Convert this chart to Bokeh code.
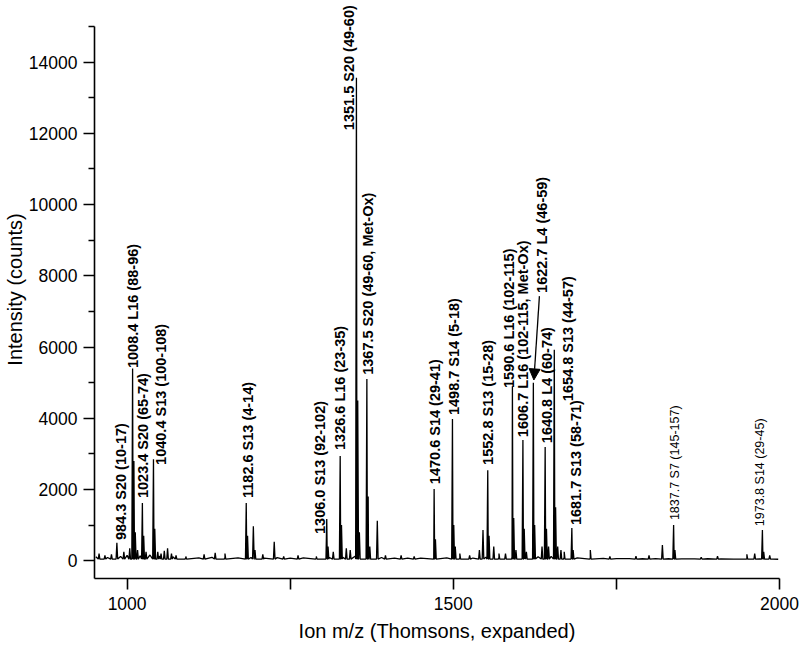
import math
from bokeh.plotting import figure
from bokeh.models import (FixedTicker, Arrow, NormalHead, ColumnDataSource, Range1d,
                          LabelSet)
from bokeh.core.properties import value
from bokeh.embed import file_html
from bokeh.resources import INLINE

# ---- data ----
# labelled peaks (m/z, intensity in counts)
peak_mz = [984.3, 1008.4, 1023.4, 1040.4, 1182.6, 1306.0, 1326.6, 1351.5, 1367.5,
           1470.6, 1498.7, 1552.8, 1590.6, 1606.7, 1622.7, 1640.8, 1654.8, 1681.7,
           1837.7, 1973.8]
peak_int = [500, 5400, 1620, 2850, 1620, 1170, 2940, 13560, 5100,
            2010, 3980, 2540, 4900, 3390, 5000, 3190, 5920, 920,
            1000, 860]

# bold labels
label_text = ["984.3 S20 (10-17)", "1008.4 L16 (88-96)", "1023.4 S20 (65-74)",
              "1040.4 S13 (100-108)", "1182.6 S13 (4-14)", "1306.0 S13 (92-102)",
              "1326.6 L16 (23-35)", "1351.5 S20 (49-60)", "1367.5 S20 (49-60, Met-Ox)",
              "1470.6 S14 (29-41)", "1498.7 S14 (5-18)", "1552.8 S13 (15-28)",
              "1590.6 L16 (102-115)", "1606.7 L16 (102-115, Met-Ox)", "1622.7 L4 (46-59)",
              "1640.8 L4 (60-74)", "1654.8 S13 (44-57)", "1681.7 S13 (58-71)"]
label_mz = [989.9, 1008.9, 1024.2, 1051.2, 1185.2, 1296.0,
            1325.9, 1339.7, 1369.1, 1472.3, 1500.7, 1553.6,
            1585.0, 1607.2, 1636.4, 1644.0, 1676.2, 1688.4]
label_int = [580, 5410, 1760, 2690, 1760, 750,
             3110, 12090, 5220, 2150, 4090, 2690,
             4850, 3470, 7520, 3300, 4480, 1000]

# small labels
small_text = ["1837.7 S7 (145-157)", "1973.8 S14 (29-45)"]
small_mz = [1840.4, 1970.7]
small_int = [1140, 970]

# arrow for 1622.7 (start / end in data units)
arrow_from = (1632.0, 7430)
arrow_to = (1623.5, 5075)

# unlabelled / isotope / noise peaks
minor_mz = [957, 966, 976, 995, 1004, 1010.4, 1012.5, 1016, 1025.4, 1029, 1042.4, 1047,
            1052, 1057, 1062, 1068, 1075, 1090, 1118, 1135, 1150, 1184.6, 1193.5, 1196,
            1208, 1225.5, 1240, 1262, 1290, 1308, 1316, 1328.6, 1336, 1342, 1353.5, 1356,
            1369.5, 1372, 1383.5, 1396, 1420, 1440, 1472.6, 1500.7, 1503, 1510, 1525, 1540,
            1545.5, 1554.8, 1562, 1570, 1580, 1592.6, 1596, 1608.7, 1612, 1624.7, 1636,
            1642.8, 1646, 1656.8, 1660, 1665, 1670, 1683.7, 1710, 1740, 1780, 1800, 1820.5,
            1839.7, 1880, 1905, 1950, 1962, 1975.8, 1985]
minor_int = [200, 150, 180, 250, 350, 2800, 800, 300, 700, 250, 900, 250,
             200, 280, 350, 200, 150, 120, 180, 220, 200, 700, 970, 300,
             180, 530, 120, 150, 120, 400, 250, 1000, 350, 300, 4500, 800,
             1800, 400, 1120, 150, 150, 120, 600, 1000, 400, 200, 150, 300,
             860, 700, 400, 200, 200, 1200, 300, 900, 250, 1000, 400,
             900, 400, 1500, 400, 300, 250, 300, 300, 120, 130, 150, 440,
             300, 100, 130, 180, 200, 250, 150]

# baseline level
baseline_mz = [952, 970, 990, 1000, 1020, 1035, 1050, 1070, 1090, 1110, 1130, 1150,
               1170, 1190, 1210, 1230, 1250, 1270, 1290, 1310, 1330, 1350, 1370, 1390,
               1410, 1430, 1450, 1470, 1490, 1510, 1530, 1550, 1570, 1590, 1610, 1630,
               1650, 1670, 1690, 1710, 1730, 1750, 1770, 1790, 1810, 1830, 1850, 1870,
               1890, 1910, 1930, 1950, 1970, 1990, 1998]
baseline_int = [110, 90, 120, 150, 140, 160, 130, 110, 90, 80, 95, 85,
                80, 90, 75, 85, 70, 80, 75, 90, 100, 130, 110, 90,
                70, 75, 70, 65, 80, 70, 75, 100, 90, 110, 100, 110,
                120, 90, 80, 70, 65, 60, 60, 55, 60, 55, 50, 50,
                55, 50, 45, 50, 50, 45, 40]

# axis extents
y_axis_bounds = (-500, 15000)

# ---- build the spectrum trace ----
pts = list(zip(baseline_mz, baseline_int))
for mz, h in zip(peak_mz + minor_mz, peak_int + minor_int):
    pts += [(mz - 1.2, 45), (mz, h), (mz + 1.2, 45)]
pts.sort()
spec = ColumnDataSource(dict(x=[a for a, _ in pts], y=[b for _, b in pts]))

FONT = "Liberation Sans"

# frame extends to the top of the canvas so that tall labels are not clipped;
# the y axis itself stops at 15000 (axis bounds)
p = figure(width=800, height=649,
           x_range=Range1d(950, 2000), y_range=Range1d(-500, 15730),
           output_backend="svg", toolbar_location=None,
           min_border_left=93, min_border_right=21, min_border_top=0, min_border_bottom=71)
p.outline_line_color = None
p.grid.visible = False

p.line("x", "y", source=spec, line_color="black", line_width=1.3)

lab = ColumnDataSource(dict(x=label_mz, y=label_int, text=label_text))
p.add_layout(LabelSet(x="x", y="y", text="text", source=lab, angle=math.pi / 2,
                      text_align="left", text_baseline="middle",
                      text_font=value(FONT), text_font_style="bold",
                      text_font_size="14.5px", text_color="black"))

slab = ColumnDataSource(dict(x=small_mz, y=small_int, text=small_text))
p.add_layout(LabelSet(x="x", y="y", text="text", source=slab, angle=math.pi / 2,
                      text_align="left", text_baseline="middle",
                      text_font=value(FONT), text_font_style="normal",
                      text_font_size="12.5px", text_color="black"))

p.add_layout(Arrow(end=NormalHead(size=11, fill_color="black", line_color="black"),
                   x_start=arrow_from[0], y_start=arrow_from[1],
                   x_end=arrow_to[0], y_end=arrow_to[1],
                   line_color="black", line_width=1.3))

# axes
xa = p.xaxis[0]
xa.ticker = FixedTicker(ticks=[1000, 1500, 2000], minor_ticks=[1250, 1750])
ya = p.yaxis[0]
ya.ticker = FixedTicker(ticks=[0, 2000, 4000, 6000, 8000, 10000, 12000, 14000],
                        minor_ticks=[1000, 3000, 5000, 7000, 9000, 11000, 13000, 15000])
ya.bounds = y_axis_bounds
for ax in (xa, ya):
    ax.axis_line_width = 1.6
    ax.axis_line_color = "black"
    ax.major_tick_line_width = 1.6
    ax.minor_tick_line_width = 1.6
    ax.major_tick_line_color = "black"
    ax.minor_tick_line_color = "black"
    ax.major_tick_in = 0
    ax.minor_tick_in = 0
    ax.major_tick_out = 11
    ax.major_label_text_font = FONT
    ax.major_label_text_font_size = "17.5px"
    ax.major_label_text_color = "black"
    ax.axis_label_text_font = FONT
    ax.axis_label_text_font_size = "20px"
    ax.axis_label_text_font_style = "normal"
    ax.axis_label_text_color = "black"
xa.minor_tick_out = 11
ya.minor_tick_out = 6
xa.major_label_standoff = 7
ya.major_label_standoff = 6
xa.axis_label = "Ion m/z (Thomsons, expanded)"
ya.axis_label = "Intensity (counts)"
xa.axis_label_standoff = 7
ya.axis_label_standoff = 0

open("out.html", "w").write(file_html(p, INLINE))
